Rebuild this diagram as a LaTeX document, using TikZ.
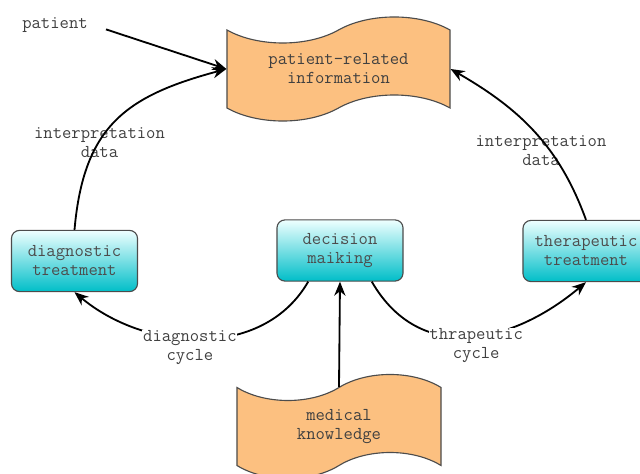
\documentclass[tikz,border=0pt]{standalone}
\usepackage{fontspec}
\usetikzlibrary{arrows.meta,shapes.symbols,calc,positioning}

\definecolor{tapeorange}{RGB}{252,192,128}
\definecolor{boxteal}{RGB}{0,190,200}
\definecolor{boxtop}{RGB}{238,255,255}
\newcommand{\figfont}{\ttfamily\fontsize{12.9}{13.5}\selectfont}

\tikzset{
  tapebox/.style={tape, draw=black!70, fill=tapeorange, line width=0.8pt,
    tape bend top=in and out, tape bend bottom=in and out, tape bend height=0.65cm,
    align=center, text=black!75, font=\figfont},
  cyanbox/.style={rounded corners=0.2cm, draw=black!70, line width=0.8pt,
    top color=boxtop, bottom color=boxteal, minimum width=3.15cm, minimum height=1.53cm,
    align=center, text=black!70, font=\figfont},
  lbl/.style={align=center, text=black!75, font=\figfont},
  cyc/.style={lbl, fill=white, inner sep=0.5pt, yshift=-0.24cm},
  flow/.style={-{Stealth[length=10pt,width=8pt]}, line width=1.3pt},
}

\begin{document}
\begin{tikzpicture}[x=0.025cm,y=0.025cm]
\useasboundingbox (0,0) rectangle (640,474);

\node [tapebox, minimum width=5.575cm, minimum height=2.6cm] (info) at (338.5,405) {patient-related\\information};
\node [tapebox, minimum width=5.1cm, minimum height=2.6cm] (know) at (339,47.5) {medical\\knowledge};

\node [cyanbox] (diag) at (74.5,213) {diagnostic\\treatment};
\node [cyanbox] (dec) at (340,223.5) {decision\\maiking};
\node [cyanbox] (ther) at (586,223) {therapeutic\\treatment};

\node [lbl] (pat) at (55,449) {patient};
\node [lbl] (intl) at (99.5,331) {interpretation\\data};
\node [lbl] (intr) at (541,323) {interpretation\\data};

\draw [flow, shorten <=0.35cm] (pat.east) -- (info.west);
\draw [flow] (diag.north) to [out=85,in=195,looseness=1.2] (info.west);
\draw [flow] (ther.north) to [out=110,in=-30] (info.east);
\draw [flow] (know.north) -- (dec.south);

\draw [flow] ($(dec.south)!0.5!(dec.south west)$) to [out=240,in=320] node [cyc, pos=0.54] (dcyc) {diagnostic\\cycle} (diag.south);
\draw [flow] ($(dec.south)!0.5!(dec.south east)$) to [out=300,in=220,looseness=1.15] node [cyc, pos=0.53] (tcyc) {thrapeutic\\cycle} (ther.south);
\end{tikzpicture}
\end{document}
